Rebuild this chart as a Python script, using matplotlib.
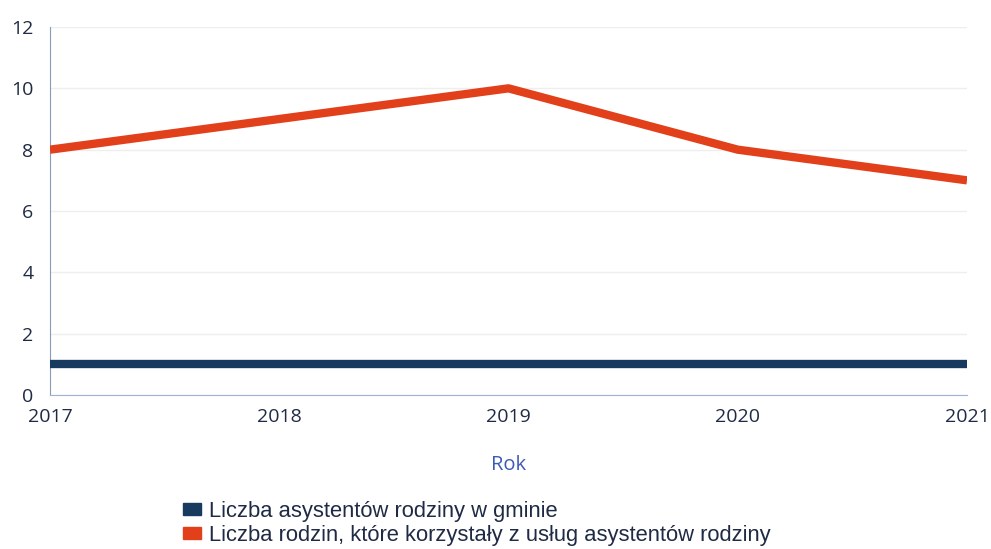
import matplotlib
matplotlib.use("Agg")
import matplotlib.pyplot as plt
from matplotlib.patches import Patch

plt.rcParams['font.family'] = ['Open Sans', 'DejaVu Sans']

years = [2017, 2018, 2019, 2020, 2021]
asystenci = [1, 1, 1, 1, 1]
rodziny = [8, 9, 10, 8, 7]
series_names = ["Liczba asystentów rodziny w gminie",
                "Liczba rodzin, które korzystały z usług asystentów rodziny"]
colors = ["#173a5e", "#e2401b"]

fig = plt.figure(figsize=(9.91, 5.49), dpi=100)
ax = fig.add_axes([50/991, (549-395)/549, (967-50)/991, (395-27)/549])

ax.plot(years, asystenci, color=colors[0], lw=6, solid_capstyle='butt', zorder=3)
ax.plot(years, rodziny, color=colors[1], lw=6, solid_capstyle='butt', zorder=3)

ax.set_xlim(2017, 2021)
ax.set_ylim(0, 12)
ax.set_yticks([0, 2, 4, 6, 8, 10, 12])
ax.set_xticks(years)
ax.grid(axis='y', color='#eeeeee', lw=1)
ax.set_axisbelow(True)
for s in ['top', 'right']:
    ax.spines[s].set_visible(False)
ax.spines['left'].set_color('#8a9bb8')
ax.spines['bottom'].set_color('#9fb3d9')
ax.tick_params(length=0, colors='#1f2a44', labelsize=14)
ax.tick_params(axis='x', pad=9)
ax.tick_params(axis='y', pad=12)
ax.set_xlabel("Rok", color='#3d5bb5', fontsize=14.5, labelpad=21)

handles = [Patch(color=c) for c in colors]
fig.legend(handles, series_names, loc='upper left', bbox_to_anchor=(183/991, 1-501/549),
           frameon=False, handlelength=0.8, handleheight=0.45,
           handletextpad=0.4, labelspacing=0.12, borderpad=0, borderaxespad=0,
           labelcolor='#1f2a44', prop={'family': ['Liberation Sans'], 'size': 15.8})

fig.savefig("out.png", dpi=100)
